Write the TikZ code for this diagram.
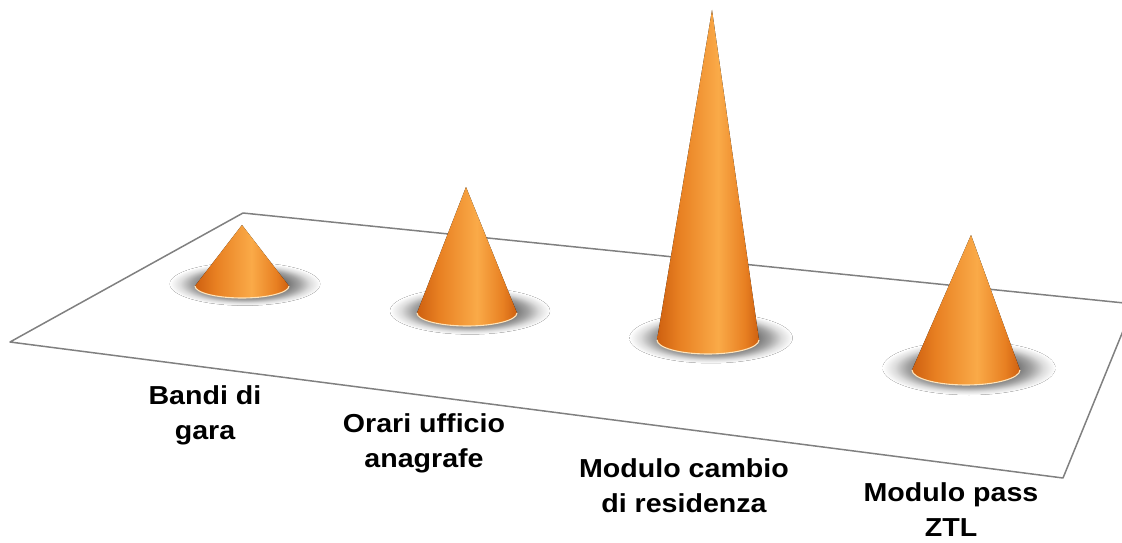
\documentclass[tikz,border=0pt]{standalone}
\usepackage{fontspec}
\setmainfont{Liberation Sans}
\usepackage{xcolor}
\usepackage{tikz}
\usetikzlibrary{positioning}
\definecolor{coneDark}{RGB}{206,96,16}
\definecolor{coneMid}{RGB}{232,128,34}
\definecolor{coneLight}{RGB}{250,170,72}
\definecolor{rimCream}{RGB}{255,228,186}
\definecolor{floorGray}{RGB}{128,128,128}
\pgfdeclarehorizontalshading{coneorange}{100bp}{%
  color(0bp)=(coneDark); color(25bp)=(coneDark); color(36bp)=(coneMid);
  color(55bp)=(coneLight); color(68bp)=(coneMid); color(75bp)=(coneDark);
  color(100bp)=(coneDark)}
\pgfdeclareradialshading{coneshadow}{\pgfpoint{0bp}{0bp}}{%
  color(0bp)=(black!58); color(14bp)=(black!54); color(18bp)=(black!36);
  color(21.5bp)=(black!14); color(25bp)=(white); color(50bp)=(white)}
\tikzset{
  floorEdge/.style={draw=floorGray, line width=1.5pt, line join=round},
  coneBody/.style={shading=coneorange},   % orange body
  coneShadow/.style={shading=coneshadow}, % soft floor shadow
  coneRim/.style={draw=rimCream, line width=1.1pt},
  coneLabel/.style={font=\fontsize{26}{35}\selectfont\bfseries, align=center,
    anchor=north, inner sep=0pt, xscale=1.1, transform shape}
}
% cx, cy, rx, ry, apex x, apex y
\newcommand{\DrawCone}[6]{%
  \fill[coneShadow] ({#1+3},{#2-2}) ellipse ({#3*1.6pt} and {#4*1.8pt});
  \fill[coneBody] (#5,#6) -- ({#1-#3},#2)
    arc[start angle=180, end angle=360, x radius=#3pt, y radius=#4pt] -- cycle;
  \draw[coneRim] ({#1-#3},#2)
    arc[start angle=180, end angle=360, x radius=#3pt, y radius=#4pt];
}

\begin{document}
\begin{tikzpicture}[x=1pt, y=-1pt]
  \useasboundingbox (0,0) rectangle (1122,543);
  \clip (0,0) rectangle (1122,543);
  % floor
  \coordinate (FA) at (243,213);
  \coordinate (FB) at (1134,304);
  \coordinate (FC) at (1063,478);
  \coordinate (FD) at (10,342);
  \draw[floorEdge] (FA) -- (FB) -- (FC) -- (FD) -- cycle;
  % cones
  \foreach \cx/\cy/\rx/\ry/\ax/\ay in {242/286/47/12/242/225,
      467/313/50/13/466/187, 708/340/51/14/712/10, 966/370/54/15/971/235}{
    \DrawCone{\cx}{\cy}{\rx}{\ry}{\ax}{\ay}
  }
  % category labels
  \node[coneLabel] (lblBandi) at (205,385) {Bandi di\\gara};
  \node[coneLabel] (lblOrari) at (424,413) {Orari ufficio\\anagrafe};
  \node[coneLabel] (lblCambio) at (684,458) {Modulo cambio\\di residenza};
  \node[coneLabel] (lblPass) at (951,482) {Modulo pass\\ZTL};
\end{tikzpicture}
\end{document}
